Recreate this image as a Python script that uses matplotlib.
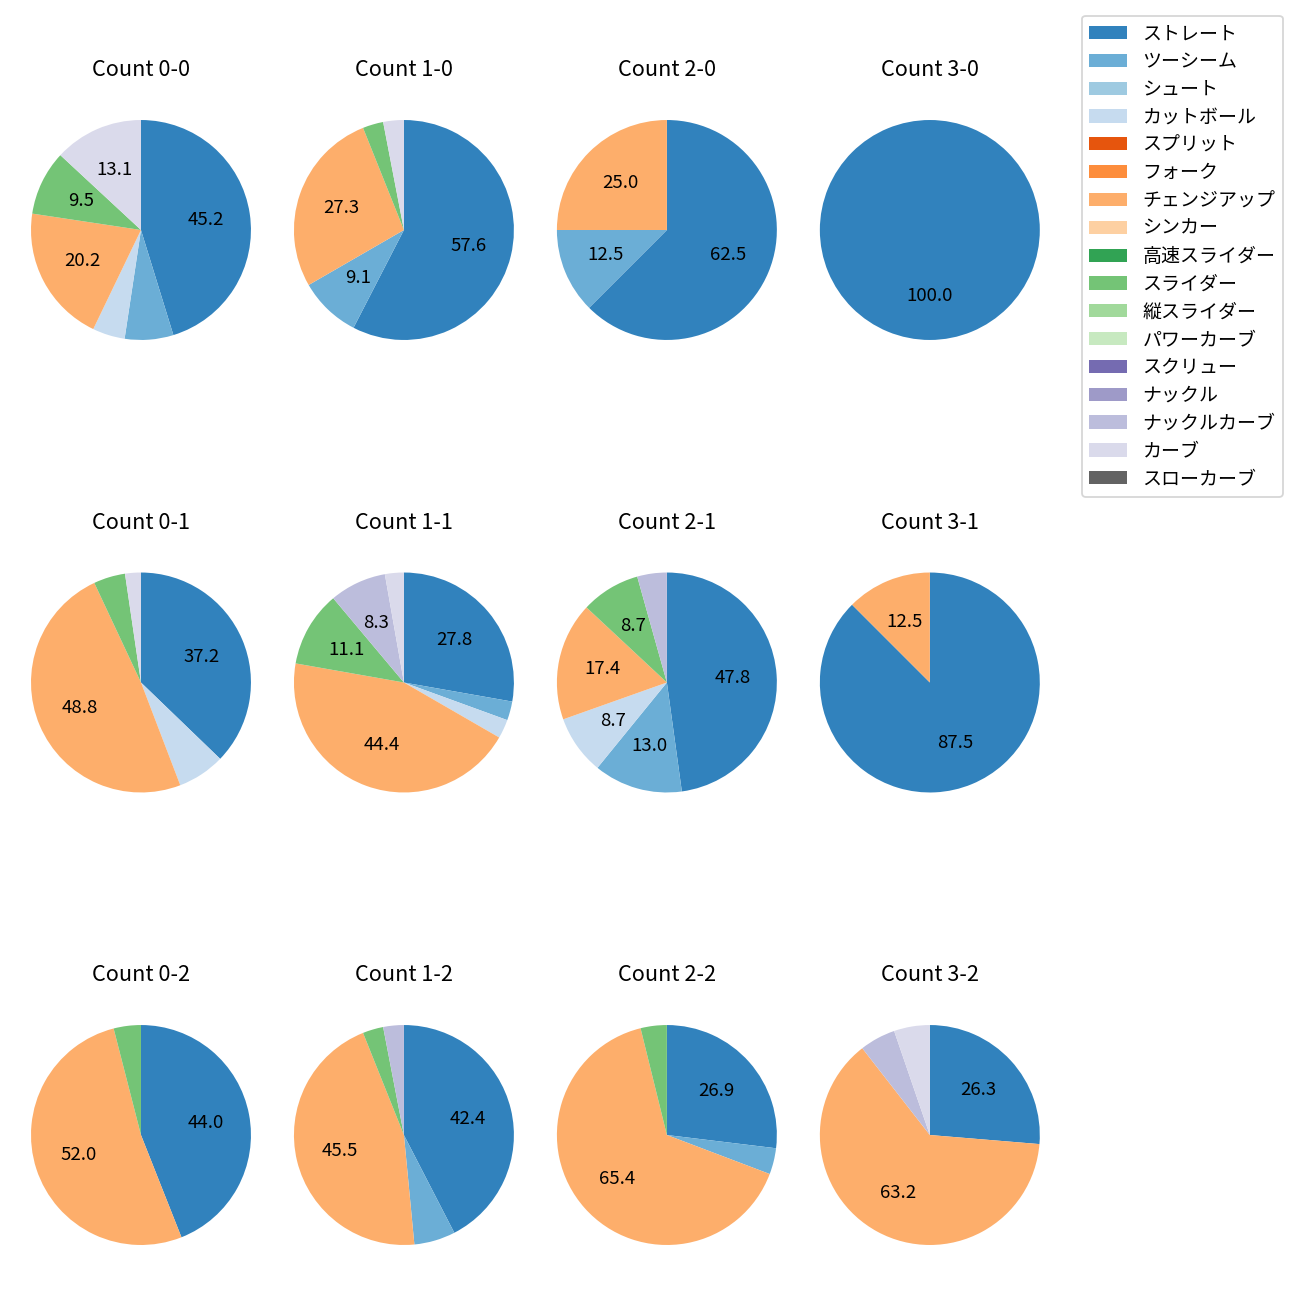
import numpy as np
import matplotlib
matplotlib.use("Agg")
import matplotlib.pyplot as plt
from matplotlib.patches import Patch

plt.rcParams["font.family"] = ["Noto Sans CJK JP", "DejaVu Sans"]

# %% Data
pitch_types = [
    "ストレート", "ツーシーム", "シュート", "カットボール", "スプリット",
    "フォーク", "チェンジアップ", "シンカー", "高速スライダー", "スライダー",
    "縦スライダー", "パワーカーブ", "スクリュー", "ナックル", "ナックルカーブ",
    "カーブ", "スローカーブ",
]

count_titles = [
    "Count 0-0", "Count 1-0", "Count 2-0", "Count 3-0",
    "Count 0-1", "Count 1-1", "Count 2-1", "Count 3-1",
    "Count 0-2", "Count 1-2", "Count 2-2", "Count 3-2",
]

# pitch counts per type, same order as pitch_types
count_0_0 = [38, 6, 0, 4, 0, 0, 17, 0, 0, 8, 0, 0, 0, 0, 0, 11, 0]
count_1_0 = [19, 3, 0, 0, 0, 0, 9, 0, 0, 1, 0, 0, 0, 0, 0, 1, 0]
count_2_0 = [5, 1, 0, 0, 0, 0, 2, 0, 0, 0, 0, 0, 0, 0, 0, 0, 0]
count_3_0 = [2, 0, 0, 0, 0, 0, 0, 0, 0, 0, 0, 0, 0, 0, 0, 0, 0]
count_0_1 = [16, 0, 0, 3, 0, 0, 21, 0, 0, 2, 0, 0, 0, 0, 0, 1, 0]
count_1_1 = [10, 1, 0, 1, 0, 0, 16, 0, 0, 4, 0, 0, 0, 0, 3, 1, 0]
count_2_1 = [11, 3, 0, 2, 0, 0, 4, 0, 0, 2, 0, 0, 0, 0, 1, 0, 0]
count_3_1 = [7, 0, 0, 0, 0, 0, 1, 0, 0, 0, 0, 0, 0, 0, 0, 0, 0]
count_0_2 = [11, 0, 0, 0, 0, 0, 13, 0, 0, 1, 0, 0, 0, 0, 0, 0, 0]
count_1_2 = [14, 2, 0, 0, 0, 0, 15, 0, 0, 1, 0, 0, 0, 0, 1, 0, 0]
count_2_2 = [7, 1, 0, 0, 0, 0, 17, 0, 0, 1, 0, 0, 0, 0, 0, 0, 0]
count_3_2 = [5, 0, 0, 0, 0, 0, 12, 0, 0, 0, 0, 0, 0, 0, 1, 1, 0]

all_counts = [
    count_0_0, count_1_0, count_2_0, count_3_0,
    count_0_1, count_1_1, count_2_1, count_3_1,
    count_0_2, count_1_2, count_2_2, count_3_2,
]

colors = [plt.get_cmap("tab20c")(i) for i in range(len(pitch_types))]


def pct_label(pct):
    return f"{pct:.1f}" if pct >= 8 else ""


# %% Plot
fig, axes = plt.subplots(3, 4, figsize=(10, 10), dpi=130)
fig.subplots_adjust(left=0.0027, right=0.821, wspace=-0.0436,
                    top=0.9385, bottom=0.0115, hspace=0.508)

for ax, title, vals in zip(axes.flat, count_titles, all_counts):
    vals = np.array(vals, dtype=float)
    keep = vals > 0
    ax.pie(
        vals[keep],
        colors=[c for c, k in zip(colors, keep) if k],
        autopct=pct_label,
        startangle=90,
        counterclock=False,
        textprops={"fontsize": 10.3},
    )
    ax.set_title(title, pad=9)

handles = [Patch(facecolor=c, label=p) for c, p in zip(colors, pitch_types)]
fig.legend(handles=handles, loc="upper right", fontsize=10.5,
           bbox_to_anchor=(0.987, 0.988), borderaxespad=0,
           labelspacing=0.36)

plt.savefig("out.png", dpi=130)
